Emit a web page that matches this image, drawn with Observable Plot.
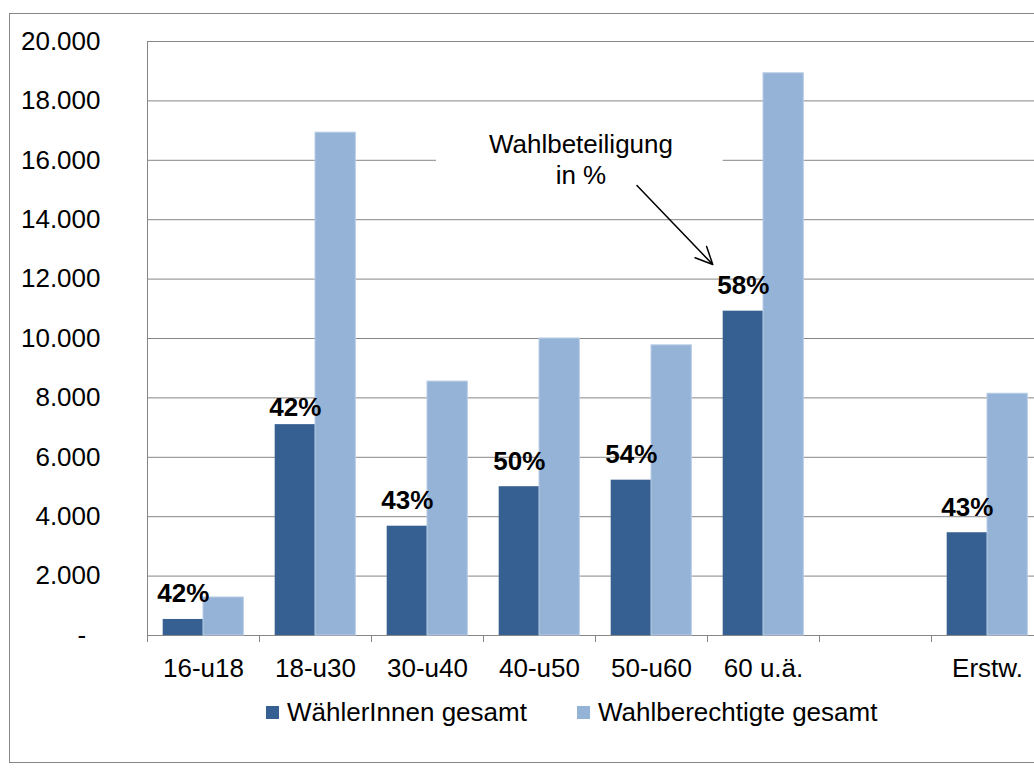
<!DOCTYPE html>
<html>
<head>
<meta charset="utf-8">
<script src="https://cdn.jsdelivr.net/npm/d3@7"></script>
<script src="https://cdn.jsdelivr.net/npm/@observablehq/plot@0.6"></script>
<style>
  html, body { margin: 0; padding: 0; background: #fff; overflow: hidden; }
  #wrap { position: relative; width: 1034px; height: 776px; overflow: hidden;
          font-family: "Liberation Sans", Arial, sans-serif; color: #000; }
  #border { position: absolute; left: 9px; top: 13px; width: 1200px; height: 750px;
            border: 1px solid #868686; box-sizing: border-box; }
  #chart { position: absolute; left: 0; top: 0; }
  .item { position: absolute; top: 699px; display: flex; align-items: center;
          font-size: 26px; line-height: 26px; white-space: nowrap; }
  .sw { width: 13px; height: 13px; display: inline-block; margin-right: 8px; }
</style>
</head>
<body>
<div id="wrap">
  <div id="border"></div>
  <div id="chart"></div>
  <div class="item" style="left:266px"><span class="sw" style="background:#376092"></span><span id="l1"></span></div>
  <div class="item" style="left:577px"><span class="sw" style="background:#95B3D7"></span><span id="l2"></span></div>
</div>
<script>
// ---- data ----
const categories  = ["16-u18", "18-u30", "30-u40", "40-u50", "50-u60", "60 u.ä.", "", "Erstw."];
const waehler     = [540, 7100, 3680, 5010, 5230, 10920, null, 3460];
const berechtigte = [1280, 16930, 8550, 10000, 9770, 18930, null, 8140];
const turnout     = ["42%", "42%", "43%", "50%", "54%", "58%", null, "43%"];
const seriesNames = ["WählerInnen gesamt", "Wahlberechtigte gesamt"];
const yTicks      = [0, 2000, 4000, 6000, 8000, 10000, 12000, 14000, 16000, 18000, 20000];
const annotationLabel = ["Wahlbeteiligung\nin %"];
// annotation placement in data units (x = category index, y = value)
const annotationText  = [{x: 3.87, y: 17000, label: annotationLabel[0]}];
const annotationBox   = [{x1: 2.58, x2: 5.14, y1: 14700, y2: 17500}];
const annotationArrow = [{x1: 4.37, y1: 15150, x2: 5.047, y2: 12490}];

const colors = ["#376092", "#95B3D7"];
document.getElementById("l1").textContent = seriesNames[0];
document.getElementById("l2").textContent = seriesNames[1];

const rows = categories.map((c, i) => ({i, cat: c, w: waehler[i], b: berechtigte[i], t: turnout[i]}));
const barRows = rows.filter(r => r.w != null);
const inset = 0.14;
const de = d3.formatLocale({decimal: ",", thousands: ".", grouping: [3], currency: ["", "€"]});
const fmt = de.format(",");
const boundaries = d3.range(0, categories.length + 1);
const centers = categories.map((c, i) => i + 0.5);
const FONT = "'Liberation Sans', Arial, sans-serif";
const FS = 26;

const chart = Plot.plot({
  width: 1034,
  height: 690,
  marginLeft: 147,
  marginRight: -9,
  marginTop: 41,
  marginBottom: 55,
  x: {domain: [0, categories.length], axis: null},
  y: {domain: [0, 20000], axis: null},
  style: `font-family: ${FONT}; font-size: ${FS}px; color: #000; background: transparent; overflow: visible; max-width: none;`,
  marks: [
    Plot.ruleY(yTicks, {stroke: "#868686", strokeOpacity: 1}),
    Plot.rect(annotationBox, {x1: "x1", x2: "x2", y1: "y1", y2: "y2", fill: "white"}),
    Plot.ruleX([0], {y1: 0, y2: 20000, stroke: "#868686"}),
    Plot.axisX(boundaries, {tickSize: 7, tickFormat: () => "", stroke: "#868686", strokeOpacity: 1, label: null}),
    Plot.axisX(centers, {tickSize: 0, tickPadding: 23, tickFormat: d => categories[Math.floor(d)], fontSize: FS, fill: "#000", label: null}),
    Plot.axisY(yTicks, {tickSize: 0, tickPadding: 47, tickFormat: d => d === 0 ? "-\u2007" : fmt(d), fontSize: FS, fill: "#000", label: null}),
    Plot.rectY(barRows, {x1: d => d.i + inset, x2: d => d.i + 0.5, y: "w", fill: colors[0]}),
    Plot.rectY(barRows, {x1: d => d.i + 0.5, x2: d => d.i + 1 - inset, y: "b", fill: colors[1], stroke: "#B9CDE5", strokeWidth: 1}),
    Plot.text(barRows.filter(r => r.cat !== "18-u30"), {x: d => d.i + (inset + 0.5) / 2, y: "w", text: "t",
      lineAnchor: "bottom", dy: -17, fontWeight: "bold", fontSize: FS, fill: "#000"}),
    Plot.text(barRows.filter(r => r.cat === "18-u30"), {x: d => d.i + (inset + 0.5) / 2, y: "w", text: "t",
      lineAnchor: "bottom", dy: -9, fontWeight: "bold", fontSize: FS, fill: "#000"}),
    Plot.text(annotationText, {x: "x", y: "y", text: "label", lineAnchor: "top", lineHeight: 1.2, fontSize: FS, fill: "#000"}),
    Plot.arrow(annotationArrow, {x1: "x1", y1: "y1", x2: "x2", y2: "y2", stroke: "#000", strokeWidth: 1.5, headAngle: 50, headLength: 19})
  ]
});
document.getElementById("chart").appendChild(chart);
</script>
</body>
</html>
